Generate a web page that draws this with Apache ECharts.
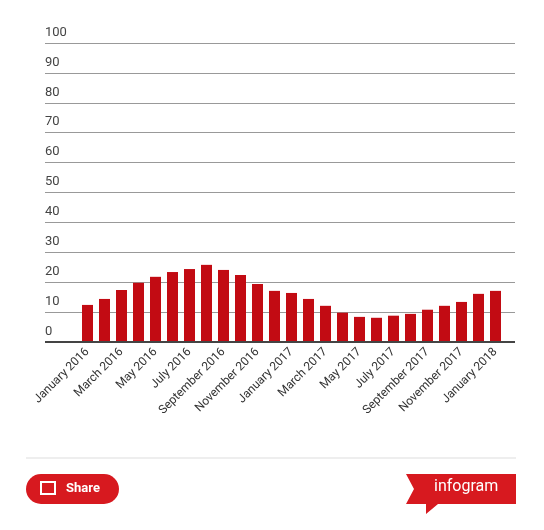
<!DOCTYPE html>
<html><head><meta charset="utf-8">
<script src="https://cdn.jsdelivr.net/npm/echarts@6/dist/echarts.min.js"></script>
<style>html,body{margin:0;padding:0;background:#fff}#c{width:544px;height:530px}</style>
</head><body><div id="c"></div>
<script>
const categories = ['January 2016','February 2016','March 2016','April 2016','May 2016','June 2016','July 2016','August 2016','September 2016','October 2016','November 2016','December 2016','January 2017','February 2017','March 2017','April 2017','May 2017','June 2017','July 2017','August 2017','September 2017','October 2017','November 2017','December 2017','January 2018'];
const values = [12.4,14.4,17.4,19.8,21.8,23.4,24.4,25.8,24.1,22.4,19.4,17.1,16.4,14.4,12.1,9.8,8.4,8.1,8.8,9.4,10.8,12.1,13.4,16.1,17.1];
const yTicks = [0,10,20,30,40,50,60,70,80,90,100];
const chart = echarts.init(document.getElementById('c'));
chart.setOption({
  animation:false,
  grid:[{left:45,right:29,top:43,bottom:188},{left:79,right:40,top:43,bottom:188}],
  xAxis:[
    {gridIndex:0,type:'category',data:[''],show:false},
    {gridIndex:1,type:'category',data:categories,axisTick:{show:false},axisLine:{show:false},
     axisLabel:{interval:1,rotate:45,color:'#333',fontSize:12,fontFamily:'Roboto',margin:8}}
  ],
  yAxis:[
    {gridIndex:0,type:'value',min:yTicks[0],max:yTicks[yTicks.length-1],interval:10,
     axisLine:{show:false},axisTick:{show:false},
     splitLine:{lineStyle:{color:'#999',width:1}},
     axisLabel:{inside:true,verticalAlign:'bottom',margin:0,color:'#444',fontSize:13,fontFamily:'Roboto',padding:[0,0,4,0]}},
    {gridIndex:1,type:'value',min:0,max:100,interval:10,show:false}
  ],
  series:[
    {type:'line',xAxisIndex:0,yAxisIndex:0,data:[],markLine:{silent:true,symbol:'none',label:{show:false},lineStyle:{color:'#444',width:2,type:'solid'},data:[{yAxis:0}]}},
    {type:'bar',xAxisIndex:1,yAxisIndex:1,data:values,barWidth:11,itemStyle:{color:'#c20b13'}}
  ],
  graphic:[
    {type:'line',shape:{x1:26,y1:458,x2:516,y2:458},style:{stroke:'#ddd',lineWidth:1}},
    {type:'rect',shape:{x:26,y:474,width:93,height:30,r:15},style:{fill:'#d7191f'}},
    {type:'text',left:66,top:482,style:{text:'Share',fill:'#fff',font:'bold 13px Roboto'}},
    {type:'rect',shape:{x:41,y:482,width:14,height:12},style:{fill:'none',stroke:'#fff',lineWidth:2}},
    {type:'polygon',shape:{points:[[406,474],[516,474],[516,504],[438,504],[426,514],[426,504],[406,504],[414,489]]},style:{fill:'#d7191f'}},
    {type:'text',left:434,top:479,style:{text:'infogram',fill:'#fff',font:'16px Roboto'}}
  ]
});
</script></body></html>
